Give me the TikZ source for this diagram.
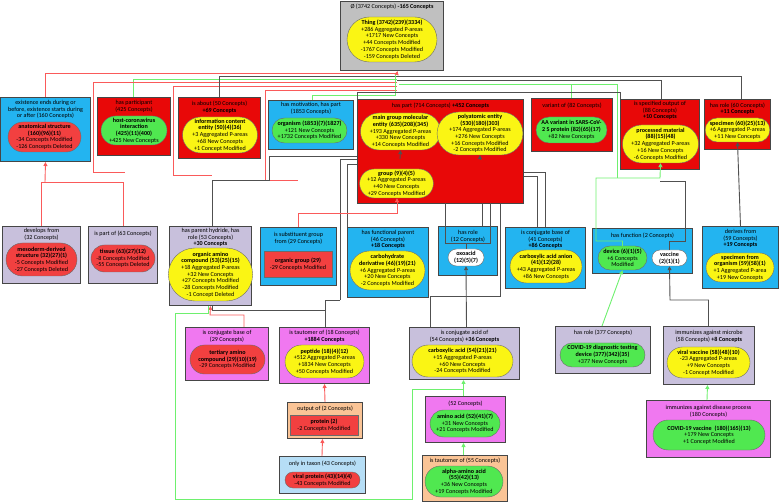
\documentclass[tikz,border=0pt]{standalone}
\usepackage{fontspec}
\setmainfont{Carlito}
\usetikzlibrary{shapes.misc,arrows.meta}
\definecolor{cblue}{RGB}{35,180,240}
\definecolor{cred}{RGB}{232,8,8}
\definecolor{pred}{RGB}{242,64,64}
\definecolor{cyel}{RGB}{250,245,20}
\definecolor{cgrn}{RGB}{80,232,80}
\definecolor{clav}{RGB}{200,192,220}
\definecolor{cgry}{RGB}{192,192,192}
\definecolor{cpnk}{RGB}{240,120,240}
\definecolor{corg}{RGB}{250,196,150}
\definecolor{clbl}{RGB}{182,222,246}
\definecolor{bline}{RGB}{70,70,70}
\definecolor{lred}{RGB}{250,90,90}
\definecolor{lgrn}{RGB}{110,240,110}
\definecolor{lgry}{RGB}{80,80,80}
\newcommand{\bx}[6]{\node[box,fill=#6,anchor=north west,minimum width={(#4-#2)*1pt},minimum height={(#5-#3)*1pt}] (#1) at (#2,#3) {};}
\newcommand{\pl}[7]{\node[pill,fill=#6,minimum width={(#4-#2)*1pt},minimum height={(#5-#3)*1pt}] (#1) at ({(#2+#4)/2},{(#3+#5)/2}) {#7};}
\newcommand{\rc}[7]{\node[rct,fill=#6,minimum width={(#4-#2)*1pt},minimum height={(#5-#3)*1pt}] (#1) at ({(#2+#4)/2},{(#3+#5)/2}) {#7};}
\newcommand{\tl}[3]{\node[ttl] (#1t) at ([yshift=-#2pt]#1.north) {#3};}
\begin{document}
\begin{tikzpicture}[x=1pt,y=-1pt,font=\fontsize{6.1}{6.7}\selectfont,
 box/.style={draw=bline,line width=1pt,rectangle,inner sep=0pt},
 pill/.style={draw=bline!80,line width=0.4pt,rounded rectangle,inner sep=0pt,align=center},
 rct/.style={draw=bline!80,line width=0.4pt,rectangle,inner sep=0pt,align=center},
 ttl/.style={anchor=north,align=center,inner sep=0pt},
 cr/.style={draw=lred,line width=0.9pt},
 cg/.style={draw=lgrn,line width=0.9pt},
 ck/.style={draw=lgry,line width=0.9pt},
 ar/.style={-{Triangle[length=4pt,width=4pt]}}]
\useasboundingbox (0,0) rectangle (779,502);
% ---------- connectors drawn under boxes ----------
\draw[cr] (45,97) |- (397,73);
\draw[cg] (133,97) |- (397,79);
\draw[cr] (93,172) |- (397,82);
\draw[cr] (93,172) -- (125,172);
\draw[cr] (173,175) |- (397,86);
\draw[cr] (173,175) -- (212,175);
\draw[ck] (219,97) |- (397,76);
\draw[cr] (265,180) |- (397,90);
\draw[cr] (265,180) -- (298,180);
\draw[cg] (312,100) |- (395,95) -- (395,73);
\draw[ck] (741,99) |- (397,76);
\draw[ck] (661,99) |- (397,80);
\draw[cg] (571,98) |- (399,84);
\draw[cg] (617,178) |- (571,84);
\draw[ck] (357,99) |- (620,92) -- (620,99);
\draw[ck] (212,226) |- (269,180) |- (400,156) -- (400,150);
\draw[ck] (340,300) |- (400,159);
\draw[ck] (347,227) |- (400,164);
\draw[ck] (545,227) |- (480,172);
\draw[ck] (537,227) |- (480,176);
\draw[ck] (482,203) -- (482,226);
\draw[ck] (500,203) |- (430,296) -- (430,327);
\draw[ck] (480,155) -- (480,203);
% ---------- boxes ----------
\bx{top}{340}{1}{443}{70}{cgry}
\tl{top}{3}{Ø (3742 Concepts) \textbf{-165 Concepts}}
\pl{thing}{347}{17}{437}{62}{cyel}{\textbf{Thing (3742)(239)(3334)}\\+286 Aggregated P-areas\\+1717 New Concepts\\+44 Concepts Modified\\-1767 Concepts Modified\\-159 Concepts Deleted}
% row 1
\bx{exist}{0}{97}{90}{161}{cblue}
\tl{exist}{3}{existence ends during or\\before, existence starts during\\or after (160 Concepts)}
\pl{anat}{8}{122}{81}{152}{pred}{\textbf{anatomical structure}\\\textbf{(160)(96)(11)}\\-34 Concepts Modified\\-126 Concepts Deleted}
\bx{part}{97}{97}{170}{155}{cred}
\tl{part}{3}{has participant\\(425 Concepts)}
\pl{host}{101}{116}{167}{145}{cgrn}{\textbf{host-coronavirus}\\\textbf{interaction}\\\textbf{(425)(11)(400)}\\+425 New Concepts}
\bx{about}{178}{97}{260}{158}{cred}
\tl{about}{4}{is about (50 Concepts)\\\textbf{+69 Concepts}}
\pl{ice}{185}{117}{255}{153}{cyel}{\textbf{information content}\\\textbf{entity (50)(4)(36)}\\+3 Aggregated P-areas\\+68 New Concepts\\+1 Concept Modified}
\bx{motiv}{268}{100}{353}{149}{cblue}
\tl{motiv}{2.5}{has motivation, has part\\(1853 Concepts)}
\pl{organism}{272}{118}{347}{143}{cgrn}{\textbf{organism (1853)(7)(1827)}\\+121 New Concepts\\+1732 Concepts Modified}
\bx{haspart}{357}{99}{523}{203}{cred}
\tl{haspart}{4}{has part (714 Concepts) \textbf{+452 Concepts}}
\pl{mgme}{362}{113}{439}{150}{cyel}{\textbf{main group molecular}\\\textbf{entity (635)(208)(345)}\\+193 Aggregated P-areas\\+330 New Concepts\\+14 Concepts Modified}
\pl{poly}{442}{112}{518}{155}{cyel}{\textbf{polyatomic entity}\\\textbf{(530)(180)(303)}\\+174 Aggregated P-areas\\+276 New Concepts\\+16 Concepts Modified\\-2 Concepts Modified}
\pl{group}{361}{169}{432}{198}{cyel}{\textbf{group (9)(4)(5)}\\+12 Aggregated P-areas\\+40 New Concepts\\+29 Concepts Modified}
\bx{variant}{531}{98}{612}{151}{cred}
\tl{variant}{5}{variant of (82 Concepts)}
\pl{aav}{536}{117}{607}{143}{cgrn}{\textbf{AA variant in SARS-CoV-}\\\textbf{2 S protein (82)(65)(17)}\\+82 New Concepts}
\bx{specout}{620}{99}{699}{169}{cred}
\tl{specout}{2}{is specified output of\\(88 Concepts)\\\textbf{+10 Concepts}}
\pl{procmat}{624}{125}{697}{163}{cyel}{\textbf{processed material}\\\textbf{(88)(15)(48)}\\+32 Aggregated P-areas\\+16 New Concepts\\-6 Concepts Modified}
\bx{role60}{704}{99}{770}{149}{cred}
\tl{role60}{3.5}{has role (60 Concepts)\\\textbf{+11 Concepts}}
\pl{specimen}{708}{118}{767}{142}{cyel}{\textbf{specimen (60)(25)(13)}\\+6 Aggregated P-areas\\+11 New Concepts}
% row 2
\bx{devfrom}{2}{226}{80}{283}{clav}
\tl{devfrom}{2.5}{develops from\\(32 Concepts)}
\pl{meso}{6}{243}{77}{276}{pred}{\textbf{mesoderm-derived}\\\textbf{structure (32)(27)(1)}\\-5 Concepts Modified\\-27 Concepts Deleted}
\bx{ispartof}{88}{226}{157}{283}{clav}
\tl{ispartof}{5}{is part of (63 Concepts)}
\pl{tissue}{91}{245}{155}{272}{pred}{\textbf{tissue (63)(27)(12)}\\-8 Concepts Modified\\-55 Concepts Deleted}
\bx{hydride}{169}{226}{251}{305}{clav}
\tl{hydride}{2}{has parent hydride, has\\role (53 Concepts)\\\textbf{+30 Concepts}}
\pl{oac}{173}{248}{248}{301}{cyel}{\textbf{organic amino}\\\textbf{compound (53)(25)(15)}\\+18 Aggregated P-areas\\+32 New Concepts\\+27 Concepts Modified\\-28 Concepts Modified\\-1 Concept Deleted}
\bx{subst}{260}{227}{336}{285}{cblue}
\tl{subst}{5}{is substituent group\\from (29 Concepts)}
\rc{ogroup}{264}{251}{332}{277}{pred}{\textbf{organic group (29)}\\-29 Concepts Modified}
\bx{funcpar}{347}{227}{428}{297}{cblue}
\tl{funcpar}{3}{has functional parent\\(46 Concepts)\\\textbf{+18 Concepts}}
\pl{carbo}{350}{251}{425}{290}{cyel}{\textbf{carbohydrate}\\\textbf{derivative (46)(19)(21)}\\+6 Aggregated P-areas\\+20 New Concepts\\-2 Concepts Modified}
\bx{role12}{438}{226}{497}{275}{cblue}
\tl{role12}{4}{has role\\(12 Concepts)}
\pl{oxo}{448}{249}{484}{266}{white}{\textbf{oxoacid}\\\textbf{(12)(5)(7)}}
\bx{conjb41}{505}{227}{585}{288}{cblue}
\tl{conjb41}{3}{is conjugate base of\\(41 Concepts)\\\textbf{+86 Concepts}}
\pl{anion}{510}{250}{582}{283}{cyel}{\textbf{carboxylic acid anion}\\\textbf{(41)(12)(28)}\\+43 Aggregated P-areas\\+86 New Concepts}
\bx{func}{592}{228}{692}{273}{cblue}
\tl{func}{5}{has function (2 Concepts)}
\pl{device}{598}{246}{647}{270}{cgrn}{\textbf{device (6)(1)(5)}\\+6 Concepts\\Modified}
\pl{vaccine}{652}{250}{687}{266}{white}{\textbf{vaccine}\\\textbf{(2)(1)(1)}}
\bx{derives}{702}{226}{778}{288}{cblue}
\tl{derives}{3}{derives from\\(59 Concepts)\\\textbf{+19 Concepts}}
\pl{sfo}{706}{253}{774}{282}{cyel}{\textbf{specimen from}\\\textbf{organism (59)(58)(1)}\\+1 Aggregated P-area\\+19 New Concepts}
% row 3
\bx{conjb29}{185}{327}{268}{380}{cpnk}
\tl{conjb29}{3}{is conjugate base of\\(29 Concepts)}
\pl{tert}{190}{345}{265}{374}{pred}{\textbf{tertiary amino}\\\textbf{compound (29)(10)(19)}\\-29 Concepts Modified}
\bx{taut18}{279}{327}{369}{383}{cpnk}
\tl{taut18}{3}{is tautomer of (18 Concepts)\\\textbf{+1884 Concepts}}
\pl{peptide}{285}{345}{364}{378}{cyel}{\textbf{peptide (18)(4)(12)}\\+512 Aggregated P-areas\\+1834 New Concepts\\+50 Concepts Modified}
\bx{conja}{409}{327}{519}{379}{clav}
\tl{conja}{3}{is conjugate acid of\\(54 Concepts) \textbf{+36 Concepts}}
\pl{carbacid}{412}{345}{513}{377}{cyel}{\textbf{carboxylic acid (54)(21)(21)}\\+15 Aggregated P-areas\\+60 New Concepts\\-24 Concepts Modified}
\bx{role377}{555}{326}{650}{373}{clav}
\tl{role377}{4}{has role (377 Concepts)}
\pl{diag}{560}{343}{645}{367}{cgrn}{\textbf{COVID-19 diagnostic testing}\\\textbf{device (377)(342)(35)}\\+377 New Concepts}
\bx{microbe}{663}{326}{754}{384}{clav}
\tl{microbe}{4}{immunizes against microbe\\(58 Concepts) \textbf{+8 Concepts}}
\pl{vvac}{667}{347}{750}{378}{cyel}{\textbf{viral vaccine (58)(48)(10)}\\-23 Aggregated P-areas\\+9 New Concepts\\-1 Concept Modified}
% row 4
\bx{output}{287}{402}{362}{438}{corg}
\tl{output}{4}{output of (2 Concepts)}
\rc{protein}{290}{415}{358}{435}{pred}{\textbf{protein (2)}\\-2 Concepts Modified}
\bx{c52}{425}{396}{505}{442}{cpnk}
\tl{c52}{5}{(52 Concepts)}
\pl{amino}{430}{410}{500}{437}{cgrn}{\textbf{amino acid (52)(41)(7)}\\+31 New Concepts\\+21 Concepts Modified}
\bx{disease}{646}{400}{770}{457}{cpnk}
\tl{disease}{5}{immunizes against disease process\\(180 Concepts)}
\pl{cvac}{653}{420}{765}{450}{cgrn}{\textbf{COVID-19 vaccine\ \ (180)(165)(13)}\\+179 New Concepts\\+1 Concept Modified}
\bx{taxon}{279}{456}{365}{493}{clbl}
\tl{taxon}{5}{only in taxon (43 Concepts)}
\pl{vprot}{285}{472}{360}{488}{pred}{\textbf{viral protein (43)(14)(4)}\\-43 Concepts Modified}
\bx{taut55}{422}{455}{507}{501}{corg}
\tl{taut55}{3}{is tautomer of (55 Concepts)}
\pl{alpha}{425}{466}{503}{497}{cgrn}{\textbf{alpha-amino acid}\\\textbf{(55)(42)(13)}\\+36 New Concepts\\+19 Concepts Modified}
% ---------- connectors ----------
\draw[cr,ar] (397,73) -- ([xshift=5.5pt]top.south);
% anatomical structure
\draw[cr] (devfrom.north) |- (45,182);
\draw[cr] (ispartof.north) |- (45,182);
\draw[cr,ar] (45,182) -- (exist.south);
% organic amino compound
\draw[cr,ar] ([xshift=17pt]conjb29.north) |- (210,315) -- ([xshift=0pt]hydride.south);
\draw[ck] ([xshift=1pt]taut18.north) |- (212,310) -- (212,306);
\draw[ck] (340,300) -| ([xshift=1pt]taut18.north);
\draw[cg] ([xshift=-2pt]c52.north) |- (412,389) |- (175,499) |- (208,313) -- (208,306);
\draw[cg,ar] ([xshift=-2pt]c52.north) -- ([xshift=-1pt]conja.south);
\draw[cg,ar] ([xshift=-1.5pt]taut55.north) -- ([xshift=-2pt]c52.south);
\draw[cr,ar] (output.north) -- (taut18.south);
\draw[cr,ar] ([xshift=-0.5pt]taxon.north) -- ([xshift=-2.5pt]output.south);
\draw[ck,ar] ([xshift=2pt]conja.north) -- ([xshift=-0pt]oxo.south);
\draw[ck] (oxo.north) -- (466,243);
\draw[ck] (445,203) |- (490,243) -- (490,203);
\draw[cg,ar] ([xshift=-1pt]role377.north) -- (device.south);
\draw[ck,ar] ([xshift=-0.5pt]microbe.north) |- (670,300) -- (vaccine.south);
\draw[cg,ar] ([xshift=-1.5pt]disease.north) -- ([xshift=-1.5pt]microbe.south);
\draw[cg,ar] (device.north) |- (596,241) |- (660,178) -- (procmat.south);
\draw[ck] (vaccine.north) |- (685,241) |- (660,181);
\draw[ck,ar] (derives.north) -- (specimen.south);
\draw[cr,ar] (subst.north) |- (397,213) -- ([xshift=0.5pt]group.south);
\draw[ck,ar] (400,159) -- (mgme.south);
\draw[ck,ar] (480,160) -- (poly.south);
\end{tikzpicture}
\end{document}
